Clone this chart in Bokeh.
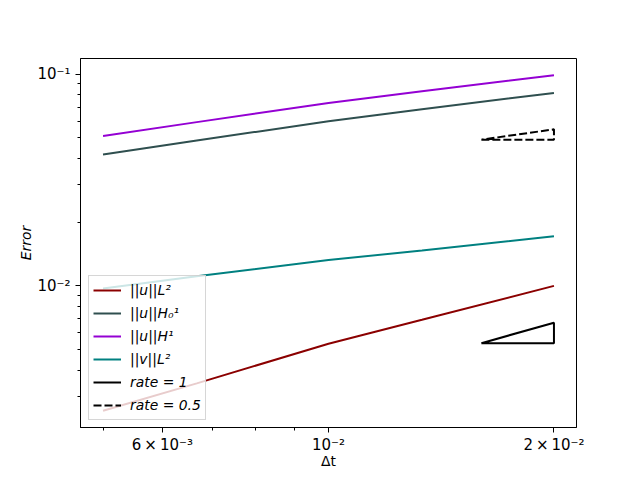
import numpy as np
from bokeh.plotting import figure
from bokeh.models import Range1d, FixedTicker, Legend, LegendItem
from bokeh.embed import file_html
from bokeh.resources import INLINE

# ---- data ----
dt = [0.005, 0.00667, 0.01, 0.01333, 0.02]
u_L2 = [0.00257, 0.00346, 0.00533, 0.00691, 0.0100]
u_H01 = [0.0418, 0.0486, 0.0600, 0.0684, 0.0816]
u_H1 = [0.0511, 0.0594, 0.0732, 0.0831, 0.0989]
v_L2 = [0.00971, 0.01110, 0.01324, 0.01470, 0.01717]

# reference slope triangles
tri1_x = [0.016, 0.02, 0.02, 0.016]
tri1_y = [0.00536, 0.00536, 0.00670, 0.00536]
tri05_x = [0.016, 0.02, 0.02, 0.016]
tri05_y = [0.0491, 0.0491, 0.0549, 0.0491]

series_labels = ["||u||L²", "||u||H₀¹", "||u||H¹", "||v||L²", "rate = 1", "rate = 0.5"]

xtick_vals = [0.006, 0.01, 0.02]
xtick_labels = ["6\u2009×\u200910⁻³", "10⁻²", "2\u2009×\u200910⁻²"]
xminor_vals = [0.005, 0.007, 0.008, 0.009]
ytick_vals = [0.01, 0.1]
ytick_labels = ["10⁻²", "10⁻¹"]
yminor_vals = [0.003, 0.004, 0.005, 0.006, 0.007, 0.008, 0.009,
               0.02, 0.03, 0.04, 0.05, 0.06, 0.07, 0.08, 0.09]

# ---- ranges with 5% log padding (like matplotlib autoscale) ----
all_x = dt + tri1_x + tri05_x
all_y = u_L2 + u_H01 + u_H1 + v_L2 + tri1_y + tri05_y
xlo, xhi = np.log10(min(all_x)), np.log10(max(all_x))
ylo, yhi = np.log10(min(all_y)), np.log10(max(all_y))
xp, yp = 0.05 * (xhi - xlo), 0.05 * (yhi - ylo)

FONT = "DejaVu Sans"
FS = "13.9px"

p = figure(width=632, height=476, x_axis_type="log", y_axis_type="log",
           x_range=Range1d(10 ** (xlo - xp), 10 ** (xhi + xp)),
           y_range=Range1d(10 ** (ylo - yp), 10 ** (yhi + yp)),
           output_backend="svg", toolbar_location=None,
           min_border_left=80, min_border_right=56,
           min_border_top=58, min_border_bottom=49)
p.grid.visible = False
p.background_fill_color = "white"
p.border_fill_color = "white"
p.outline_line_color = "black"
p.outline_line_width = 1

r1 = p.line(dt, u_L2, line_color="darkred", line_width=2)
r2 = p.line(dt, u_H01, line_color="darkslategray", line_width=2)
r3 = p.line(dt, u_H1, line_color="darkviolet", line_width=2)
r4 = p.line(dt, v_L2, line_color="teal", line_width=2)
r5 = p.line(tri1_x, tri1_y, line_color="black", line_width=2)
r6 = p.line(tri05_x, tri05_y, line_color="black", line_width=2, line_dash="8 3")

p.xaxis.ticker = FixedTicker(ticks=xtick_vals, minor_ticks=xminor_vals)
p.xaxis.major_label_overrides = dict(zip(xtick_vals, xtick_labels))
p.yaxis.ticker = FixedTicker(ticks=ytick_vals, minor_ticks=yminor_vals)
p.yaxis.major_label_overrides = dict(zip(ytick_vals, ytick_labels))

for ax in (p.xaxis[0], p.yaxis[0]):
    ax.axis_line_color = "black"
    ax.major_tick_line_color = "black"
    ax.minor_tick_line_color = "black"
    ax.major_tick_out = 5
    ax.major_tick_in = 0
    ax.minor_tick_out = 3
    ax.minor_tick_in = 0
    ax.major_label_text_font = FONT
    ax.major_label_text_font_size = "15px"
    ax.major_label_text_color = "black"
    ax.axis_label_text_font = FONT
    ax.axis_label_text_font_size = FS
    ax.axis_label_text_color = "black"

p.xaxis.major_label_standoff = 3
p.yaxis.major_label_standoff = 5
p.xaxis.axis_label = "Δt"
p.xaxis.axis_label_text_font_style = "normal"
p.xaxis.axis_label_standoff = -4
p.yaxis.axis_label = "Error"
p.yaxis.axis_label_text_font_style = "italic"
p.yaxis.axis_label_standoff = 0

renderers = [r1, r2, r3, r4, r5, r6]
legend = Legend(items=[LegendItem(label=l, renderers=[r]) for l, r in zip(series_labels, renderers)],
                location=(8, 7), margin=0, padding=4, spacing=3,
                glyph_width=28, glyph_height=20, label_height=20, label_standoff=9,
                label_text_font=FONT, label_text_font_size=FS,
                label_text_font_style="italic", label_text_color="black",
                background_fill_color="white", background_fill_alpha=0.8,
                border_line_color="#cccccc", border_line_alpha=0.8, border_line_width=1)
p.add_layout(legend)

open("out.html", "w").write(file_html(p, INLINE))
